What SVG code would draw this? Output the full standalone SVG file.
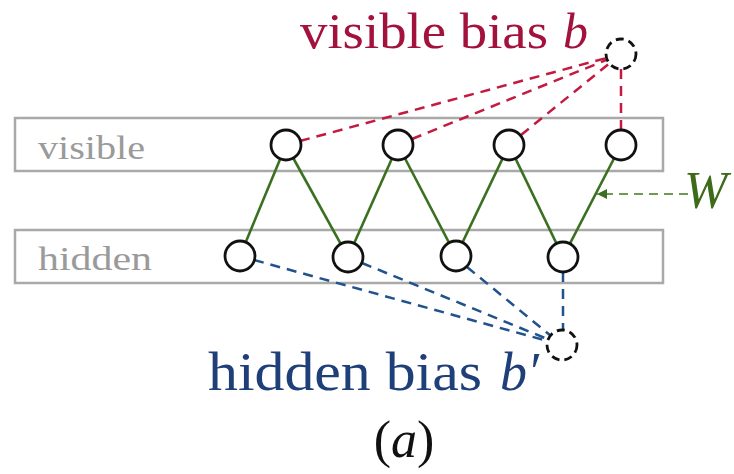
<svg xmlns="http://www.w3.org/2000/svg" width="734" height="474" viewBox="0 0 734 474">
<defs>
<style>
.layer{fill:none;stroke:#a9a9a9;stroke-width:2.5}
.lbl{font-family:"Liberation Serif",serif;fill:#9a9a9a;font-size:33px}
.node{fill:#fff;stroke:#111;stroke-width:2.8}
.bias{fill:#fff;stroke:#111;stroke-width:2.8;stroke-dasharray:8 5}
.w{stroke:#3b7020;stroke-width:2.6;fill:none}
.vb{stroke:#c31a40;stroke-width:2.5;stroke-dasharray:10 7;fill:none}
.hb{stroke:#20528e;stroke-width:2.5;stroke-dasharray:10 7;fill:none}
.big{font-family:"Liberation Serif",serif}
</style>
<marker id="ah" viewBox="0 0 10 10" refX="10" refY="5" markerWidth="13" markerHeight="10" markerUnits="userSpaceOnUse" orient="auto">
<path d="M0,0 L10,5 L0,10 z" fill="#3b7020"/>
</marker>
</defs>
<rect width="734" height="474" fill="#fff"/>
<g id="visible-layer">
<rect class="layer" x="15" y="118" width="648" height="53"/>
<text class="lbl" x="38" y="159" textLength="107" lengthAdjust="spacingAndGlyphs">visible</text>
</g>
<g id="hidden-layer">
<rect class="layer" x="15" y="230" width="648" height="53"/>
<text class="lbl" x="38" y="270" textLength="114" lengthAdjust="spacingAndGlyphs">hidden</text>
</g>
<g id="connectors">
<line class="w" x1="286" y1="145" x2="240" y2="256"/>
<line class="w" x1="286" y1="145" x2="348" y2="257"/>
<line class="w" x1="398" y1="145" x2="348" y2="257"/>
<line class="w" x1="398" y1="145" x2="456" y2="256"/>
<line class="w" x1="509" y1="145" x2="456" y2="256"/>
<line class="w" x1="509" y1="145" x2="563" y2="257"/>
<line class="w" x1="621" y1="145" x2="563" y2="257"/>
<line class="vb" x1="300" y1="141" x2="621" y2="54"/>
<line class="vb" x1="412" y1="139" x2="621" y2="54"/>
<line class="vb" x1="521" y1="135" x2="621" y2="54"/>
<line class="vb" x1="621" y1="130" x2="621" y2="54"/>
<line class="hb" x1="254" y1="260" x2="562" y2="345"/>
<line class="hb" x1="362" y1="263" x2="562" y2="345"/>
<line class="hb" x1="467" y1="267" x2="562" y2="345"/>
<line class="hb" x1="563" y1="272" x2="563" y2="345"/>
<line x1="688" y1="194" x2="597" y2="194" stroke="#6f9a55" stroke-width="2.2" stroke-dasharray="9 6" marker-end="url(#ah)"/>
</g>
<g id="v1"><circle class="node" cx="286" cy="145" r="15"/></g>
<g id="v2"><circle class="node" cx="398" cy="145" r="15"/></g>
<g id="v3"><circle class="node" cx="509" cy="145" r="15"/></g>
<g id="v4"><circle class="node" cx="621" cy="145" r="15"/></g>
<g id="h1"><circle class="node" cx="240" cy="256" r="15"/></g>
<g id="h2"><circle class="node" cx="348" cy="257" r="15"/></g>
<g id="h3"><circle class="node" cx="456" cy="256" r="15"/></g>
<g id="h4"><circle class="node" cx="563" cy="257" r="15"/></g>
<g id="visible-bias">
<circle class="bias" cx="621" cy="54" r="15"/>
<text class="big" x="300" y="48" font-size="50" fill="#a3123d" textLength="248" lengthAdjust="spacingAndGlyphs">visible bias</text>
<text class="big" x="563" y="48" font-size="50" font-style="italic" fill="#a3123d">b</text>
</g>
<g id="hidden-bias">
<circle class="bias" cx="562" cy="345" r="15"/>
<text class="big" x="208" y="390" font-size="54" fill="#1f3f78" textLength="274" lengthAdjust="spacingAndGlyphs">hidden bias</text>
<text class="big" x="500" y="390" font-size="54" font-style="italic" fill="#1f3f78">b′</text>
</g>
<g id="weights-label">
<text class="big" x="684" y="208" font-size="52" font-style="italic" fill="#3d6b1a">W</text>
</g>
<g id="caption">
<text class="big" x="404" y="457" font-size="52" fill="#111" text-anchor="middle">(<tspan font-style="italic">a</tspan>)</text>
</g>
</svg>
